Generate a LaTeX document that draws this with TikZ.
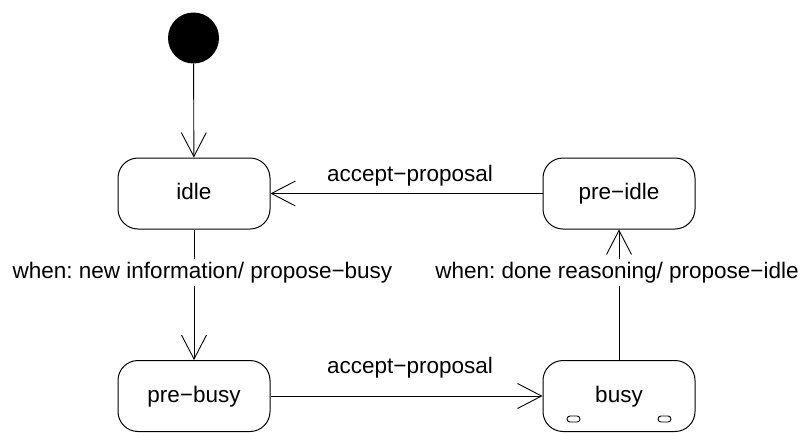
\documentclass[tikz,border=0pt]{standalone}
\usepackage{fontspec}
\setmainfont{Liberation Sans}
\usetikzlibrary{arrows.meta}
\frenchspacing
\begin{document}
\begin{tikzpicture}[x=1pt,y=-1pt,
  every node/.style={font=\fontsize{22.5}{27}\selectfont},
  state/.style={draw,line width=1pt,rounded corners=20pt,minimum width=152pt,minimum height=71pt,inner sep=0pt,text height=16pt,text depth=4pt},
  trans/.style={line width=0.9pt,-{Straight Barb[length=24pt,width=25pt,line width=0.9pt]}},
  lbl/.style={anchor=base,inner sep=3pt,fill=white},
  capsule/.style={draw,line width=0.9pt,rounded corners=3pt,minimum width=13pt,minimum height=6pt,inner sep=0pt}]
\useasboundingbox (0,0) rectangle (806,432);
\node[circle,fill=black,minimum size=51pt,inner sep=0pt] (init) at (193.5,38) {};
\node[state] (idle) at (194,193.5) {idle};
\node[state] (preidle) at (619,193.5) {pre−idle};
\node[state] (prebusy) at (194,396) {pre−busy};
\node[state] (busy) at (619,396) {busy};
\node[capsule] (c1) at (573.5,419) {};
\node[capsule] (c2) at (664.5,419) {};
\draw[trans] (init) -- (idle);
\draw[trans] (idle) -- (prebusy);
\draw[trans] (prebusy) -- (busy);
\draw[trans] (busy) -- (preidle);
\draw[trans] (preidle) -- (idle);
\node[lbl] (l1) at (202.5,278) {when: new information/ propose−busy};
\node[lbl] (l2) at (617,278) {when: done reasoning/ propose−idle};
\node[lbl] (l3) at (410,181.5) {accept−proposal};
\node[lbl] (l4) at (410,373) {accept−proposal};
\end{tikzpicture}
\end{document}
